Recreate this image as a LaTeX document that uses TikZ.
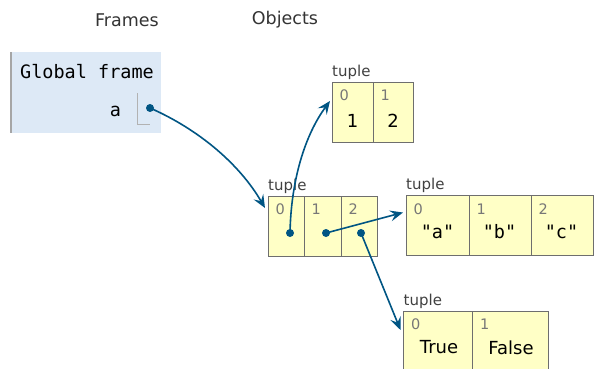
\documentclass[tikz,border=0pt]{standalone}
\usepackage{fontspec}
\setmainfont{DejaVu Sans}
\setmonofont{DejaVu Sans Mono}
\usetikzlibrary{arrows.meta,positioning,calc}
\definecolor{framebg}{RGB}{221,233,246}
\definecolor{heapbg}{RGB}{255,255,198}
\definecolor{cellgray}{RGB}{110,110,110}
\definecolor{ptrblue}{RGB}{0,85,131}
\definecolor{idxgray}{RGB}{119,119,119}

\begin{document}
\begin{tikzpicture}[x=1pt, y=-1pt,
    cell/.style={draw=cellgray, fill=heapbg, line width=1pt, minimum height=60pt,
                 inner sep=0pt, outer sep=0pt},
    kind/.style={anchor=base west, inner sep=0pt, text=black!75,
                 font=\fontsize{15}{15}\selectfont},
    idx/.style={anchor=north west, inner sep=0pt, text=idxgray,
                font=\fontsize{14.5}{15}\selectfont},
    val/.style={inner sep=0pt, font=\fontsize{18}{18}\selectfont},
    strval/.style={inner sep=0pt, font=\ttfamily\fontsize{18.5}{18}\selectfont},
    dot/.style={circle, fill=ptrblue, inner sep=0pt, minimum size=8pt},
    ptr/.style={draw=ptrblue, line width=1.6pt,
                -{Stealth[length=13pt, width=11pt, inset=5pt]}}]
  \useasboundingbox (0,0) rectangle (602,369);

  % column headings
  \node[font=\fontsize{17.5}{18}\selectfont, text=black!80] (framehead) at (127,20) {Frames};
  \node[font=\fontsize{17.5}{18}\selectfont, text=black!80] (objhead) at (285,20) {Objects};

  % global frame
  \node[fill=framebg, minimum width=150pt, minimum height=81pt, inner sep=0pt] (glob) at (86,92.5) {};
  \draw[black!35, line width=1.4pt] (glob.north west) -- (glob.south west);
  \node[anchor=base west, inner sep=0pt, font=\ttfamily\fontsize{18.5}{19}\selectfont]
       (globname) at (20,78) {Global frame};
  \node[anchor=base, inner sep=0pt, font=\ttfamily\fontsize{18.5}{19}\selectfont]
       (aname) at (115.5,116) {a};
  \draw[black!30, line width=1pt] (137,93) |- (150,124);
  \node[dot] (adot) at (150,108) {};

  % tuple (1, 2)
  \node[cell, minimum width=41pt] (t0) at (352.5,112) {};
  \node[cell, minimum width=40pt, right=0pt of t0] (t1) {};
  \node[kind] at ($(t0.north west)+(0,-6)$) {tuple};
  \node[idx] at ($(t0.north west)+(7.5,8)$) {0};
  \node[idx] at ($(t1.north west)+(7.5,8)$) {1};
  \node[val] at ($(t0.center)+(0,9)$) {1};
  \node[val] at ($(t1.center)+(0,9)$) {2};

  % tuple of three references
  \node[cell, minimum width=36pt] (m0) at (286,226) {};
  \node[cell, minimum width=37pt, right=0pt of m0] (m1) {};
  \node[cell, minimum width=36pt, right=0pt of m1] (m2) {};
  \node[kind] at ($(m0.north west)+(0,-6)$) {tuple};
  \node[idx] at ($(m0.north west)+(7.5,8)$) {0};
  \node[idx] at ($(m1.north west)+(7.5,8)$) {1};
  \node[idx] at ($(m2.north west)+(7.5,8)$) {2};
  \node[dot] (d0) at (290,233) {};
  \node[dot] (d1) at (326,233) {};
  \node[dot] (d2) at (361,233) {};

  % tuple ("a", "b", "c")
  \node[cell, minimum width=63pt] (s0) at (437.5,225.5) {};
  \node[cell, minimum width=62pt, right=0pt of s0] (s1) {};
  \node[cell, minimum width=62pt, right=0pt of s1] (s2) {};
  \node[kind] at ($(s0.north west)+(0,-6)$) {tuple};
  \node[idx] at ($(s0.north west)+(7.5,8)$) {0};
  \node[idx] at ($(s1.north west)+(7.5,8)$) {1};
  \node[idx] at ($(s2.north west)+(7.5,8)$) {2};
  \node[strval] at (437.5,231.5) {"a"};
  \node[strval] at (499.5,231.5) {"b"};
  \node[strval] at (561.5,231.5) {"c"};

  % tuple (True, False)
  \node[cell, minimum width=69pt] (b0) at (438,341) {};
  \node[cell, minimum width=76pt, right=0pt of b0] (b1) {};
  \node[kind] at ($(b0.north west)+(0,-6)$) {tuple};
  \node[idx] at ($(b0.north west)+(7.5,8)$) {0};
  \node[idx] at ($(b1.north west)+(7.5,8)$) {1};
  \node[val] at (439,347.5) {True};
  \node[val] at (511,347.5) {False};

  % references
  \draw[ptr] (adot.center) .. controls (200,130) and (240,165) .. ($(m0.north west)+(-3,12)$);
  \draw[ptr] (d0.center) .. controls (291,180) and (305,135) .. ($(t0.north west)+(-2,19)$);
  \draw[ptr] (d1.center) -- ($(s0.north west)+(-3,17)$);
  \draw[ptr] (d2.center) -- ($(b0.north west)+(-3,19)$);
\end{tikzpicture}
\end{document}
